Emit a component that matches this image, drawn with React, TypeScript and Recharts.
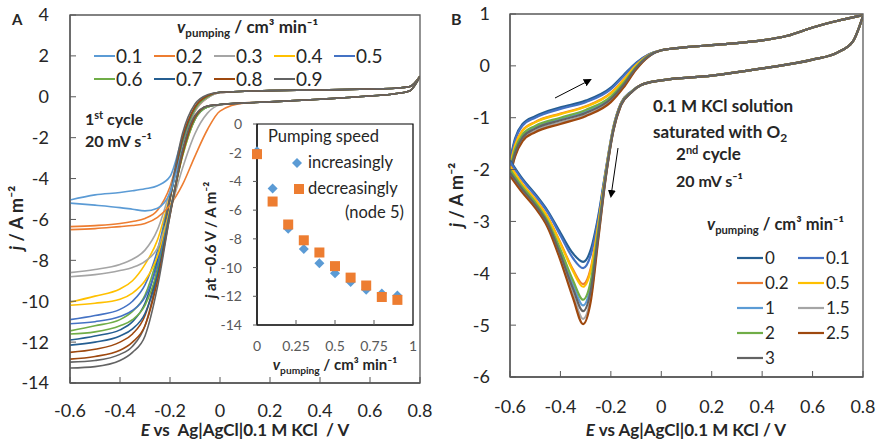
import React from 'react';
import { LineChart, Line, XAxis, YAxis, ReferenceArea, ScatterChart, Scatter } from 'recharts';

const FONT = 'Lato, "Open Sans", sans-serif';
const INK = '#262626';
const AXIS = '#595959';

// ---- Panel A: 1st cycle, j vs E for each pumping speed ----
const A_SPEEDS = ['0.1', '0.2', '0.3', '0.4', '0.5', '0.6', '0.7', '0.8', '0.9'];
const A_COLORS = ['#5B9BD5', '#ED7D31', '#A5A5A5', '#FFC000', '#4472C4', '#70AD47', '#255E91', '#9E480E', '#636363'];
const A_HEAD_E = [-0.6, -0.5, -0.4, -0.35, -0.3, -0.25, -0.2, -0.15, -0.1, -0.05, 0];
const A_TAIL_E = [0.1, 0.2, 0.4, 0.6, 0.7, 0.76, 0.8];
const A_UP_TAIL = [0.27, 0.3, 0.33, 0.38, 0.42, 0.5, 1.0];
const A_DOWN_TAIL = [-0.3, -0.25, -0.12, 0.04, 0.15, 0.3, 1.0];
// upper branch of each loop
const A_UP = [
  [-5.05, -4.8, -4.68, -4.6, -4.5, -4.35, -3.9, -2.0, -0.6, -0.05, 0.2],
  [-6.35, -6.3, -6.2, -6.1, -5.95, -5.55, -4.4, -2.2, -0.7, -0.05, 0.2],
  [-8.6, -8.45, -8.2, -7.95, -7.5, -6.5, -4.6, -2.3, -0.7, -0.05, 0.2],
  [-10.05, -9.75, -9.4, -9.0, -8.2, -7.0, -4.8, -2.2, -0.6, 0.0, 0.22],
  [-10.9, -10.7, -10.4, -10.0, -9.2, -7.5, -4.9, -2.2, -0.6, 0.0, 0.22],
  [-11.45, -11.2, -10.9, -10.5, -9.7, -7.8, -5.0, -2.2, -0.6, 0.0, 0.22],
  [-11.9, -11.7, -11.4, -11.0, -10.1, -8.0, -5.0, -2.1, -0.5, 0.05, 0.22],
  [-12.5, -12.35, -12.0, -11.6, -10.7, -8.4, -5.0, -2.0, -0.5, 0.05, 0.22],
  [-12.98, -12.9, -12.6, -12.2, -11.2, -8.7, -4.9, -1.8, -0.35, 0.1, 0.22],
];
// lower branch of each loop
const A_DOWN = [
  [-5.2, -5.3, -5.42, -5.5, -5.58, -5.45, -4.7, -2.6, -1.0, -0.5, -0.38],
  [-6.5, -6.45, -6.35, -6.3, -6.2, -5.9, -5.3, -4.3, -2.9, -1.6, -0.7],
  [-8.8, -8.7, -8.5, -8.35, -8.05, -7.4, -5.6, -3.5, -1.8, -0.8, -0.4],
  [-10.2, -10.1, -9.9, -9.6, -9.0, -7.8, -5.5, -2.9, -1.1, -0.5, -0.38],
  [-11.1, -11.0, -10.75, -10.45, -9.8, -8.2, -5.6, -2.8, -1.1, -0.5, -0.38],
  [-11.6, -11.5, -11.2, -10.9, -10.2, -8.5, -5.7, -2.9, -1.1, -0.5, -0.38],
  [-12.15, -12.0, -11.7, -11.35, -10.6, -8.7, -5.7, -2.8, -1.0, -0.45, -0.38],
  [-12.83, -12.7, -12.4, -12.0, -11.2, -9.0, -5.8, -2.8, -1.0, -0.45, -0.38],
  [-13.27, -13.2, -12.9, -12.5, -11.7, -9.3, -5.8, -2.6, -0.9, -0.45, -0.38],
];

// ---- Inset: j at -0.6 V vs pumping speed ----
const INSET_SPEED = [0, 0.1, 0.2, 0.3, 0.4, 0.5, 0.6, 0.7, 0.8, 0.9];
const INSET_INC = [-1.9, -4.5, -7.3, -8.7, -9.7, -10.4, -11.0, -11.55, -11.8, -11.95];
const INSET_DEC = [-2.1, -5.4, -7.0, -8.1, -8.95, -9.9, -10.7, -11.25, -12.05, -12.25];

// ---- Panel B: 2nd cycle in O2-saturated KCl ----
const B_SPEEDS = ['0', '0.1', '0.2', '0.5', '1', '1.5', '2', '2.5', '3'];
const B_COLORS = ['#255E91', '#4472C4', '#ED7D31', '#FFC000', '#5B9BD5', '#A5A5A5', '#70AD47', '#9E480E', '#636363'];
const B_LOW_E = [-0.6, -0.55, -0.5, -0.45, -0.4, -0.35, -0.31, -0.28, -0.25, -0.22, -0.19, -0.16, -0.12];
const B_LOW_TAIL_E = [-0.08, 0, 0.2, 0.4, 0.6, 0.7, 0.76, 0.8];
const B_LOW_TAIL = [-0.37, -0.28, -0.19, -0.05, 0.12, 0.26, 0.47, 0.96];
const B_LOW = [
  [-1.82, -2.18, -2.47, -2.8, -3.22, -3.62, -3.78, -3.55, -2.9, -2.0, -1.18, -0.72, -0.5],
  [-1.85, -2.21, -2.5, -2.83, -3.27, -3.71, -3.9, -3.65, -2.95, -2.02, -1.19, -0.72, -0.5],
  [-1.93, -2.28, -2.57, -2.92, -3.41, -3.93, -4.21, -3.91, -3.06, -2.05, -1.21, -0.73, -0.51],
  [-1.94, -2.29, -2.58, -2.93, -3.43, -3.96, -4.26, -3.95, -3.08, -2.06, -1.21, -0.74, -0.51],
  [-2.03, -2.37, -2.66, -3.02, -3.59, -4.22, -4.62, -4.25, -3.22, -2.11, -1.23, -0.75, -0.51],
  [-2.1, -2.43, -2.72, -3.09, -3.71, -4.41, -4.88, -4.47, -3.31, -2.14, -1.24, -0.76, -0.52],
  [-2.0, -2.34, -2.63, -3.0, -3.54, -4.14, -4.51, -4.16, -3.17, -2.09, -1.22, -0.74, -0.51],
  [-2.12, -2.45, -2.74, -3.12, -3.75, -4.48, -4.98, -4.55, -3.35, -2.15, -1.25, -0.76, -0.52],
  [-2.06, -2.39, -2.68, -3.05, -3.64, -4.3, -4.73, -4.34, -3.26, -2.12, -1.24, -0.75, -0.52],
];
const B_UP_E = [-0.6, -0.58, -0.55, -0.5, -0.4, -0.3, -0.2, -0.15, -0.1, -0.05];
const B_UP_TAIL_E = [0, 0.1, 0.2, 0.3, 0.4, 0.5, 0.6, 0.7, 0.8];
const B_UP_TAIL = [0.3, 0.36, 0.4, 0.44, 0.49, 0.58, 0.74, 0.87, 0.98];
const B_UP = [
  [-1.82, -1.4, -1.12, -0.97, -0.8, -0.67, -0.42, -0.18, 0.06, 0.22],
  [-1.85, -1.44, -1.15, -1.0, -0.83, -0.7, -0.45, -0.2, 0.05, 0.22],
  [-1.93, -1.53, -1.24, -1.08, -0.92, -0.78, -0.52, -0.27, 0.01, 0.21],
  [-1.94, -1.54, -1.25, -1.09, -0.93, -0.79, -0.53, -0.28, 0.01, 0.2],
  [-2.03, -1.65, -1.35, -1.19, -1.02, -0.88, -0.62, -0.35, -0.03, 0.19],
  [-2.1, -1.72, -1.42, -1.25, -1.09, -0.95, -0.68, -0.4, -0.06, 0.18],
  [-2.0, -1.61, -1.32, -1.16, -1.0, -0.85, -0.59, -0.33, -0.02, 0.2],
  [-2.12, -1.75, -1.45, -1.28, -1.12, -0.97, -0.7, -0.42, -0.07, 0.18],
  [-2.06, -1.68, -1.38, -1.21, -1.05, -0.91, -0.64, -0.37, -0.04, 0.19],
];

const A_X_TICKS = [-0.6, -0.4, -0.2, 0, 0.2, 0.4, 0.6, 0.8];
const A_Y_TICKS = [-14, -12, -10, -8, -6, -4, -2, 0, 2, 4];
const B_Y_TICKS = [-6, -5, -4, -3, -2, -1, 0, 1];
const INSET_X_TICKS = [0, 0.25, 0.5, 0.75, 1];
const INSET_Y_TICKS = [-14, -12, -10, -8, -6, -4, -2, 0];

function branch(e1: number[], j1: number[], e2: number[], j2: number[]) {
  return [...e1.map((E, i) => ({ E, j: j1[i] })), ...e2.map((E, i) => ({ E, j: j2[i] }))];
}

const tickStyle = { fontFamily: FONT, fontSize: 18, fill: INK };

const Diamond = (p: any) => (
  <polygon points={`${p.cx},${p.cy - 5} ${p.cx + 5},${p.cy} ${p.cx},${p.cy + 5} ${p.cx - 5},${p.cy}`} fill="#5B9BD5" />
);
const Square = (p: any) => <rect x={p.cx - 5} y={p.cy - 5} width={10} height={10} fill="#ED7D31" />;

function PumpLabel({ x, y, size, anchor }: { x: number; y: number; size: number; anchor?: string }) {
  return (
    <text x={x} y={y} fontFamily={FONT} fontSize={size} fontWeight={700} fill={INK} textAnchor={anchor}>
      <tspan fontStyle="italic">v</tspan>
      <tspan fontSize={size * 0.68} dy={4}>pumping</tspan>
      <tspan dy={-4}> / cm³ min⁻¹</tspan>
    </text>
  );
}

export default function App() {
  return (
    <div style={{ position: 'fixed', left: 0, top: 0, width: 877, height: 439, background: '#fff' }}>
      <div style={{ position: 'absolute', left: 0, top: 0 }}>
        <LineChart width={440} height={439} margin={{ top: 15, right: 20, bottom: 26, left: 10 }}>
          <XAxis dataKey="E" type="number" domain={[-0.6, 0.8]} ticks={A_X_TICKS} interval={0}
            allowDataOverflow height={30} tickSize={-6} tickMargin={27} tick={tickStyle}
            axisLine={{ stroke: AXIS, strokeWidth: 1.3 }} tickLine={{ stroke: AXIS }} />
          <YAxis type="number" domain={[-14, 4]} ticks={A_Y_TICKS} interval={0} allowDataOverflow
            width={60} tickSize={-6} tickMargin={27} tick={tickStyle}
            axisLine={{ stroke: AXIS, strokeWidth: 1.3 }} tickLine={{ stroke: AXIS }} />
          <ReferenceArea x1={-0.6} x2={0.8} y1={-14} y2={4} fill="none" stroke={AXIS} strokeWidth={1.3} />
          {A_SPEEDS.map((s, i) => (
            <Line key={'au' + s} data={branch(A_HEAD_E, A_UP[i], A_TAIL_E, A_UP_TAIL)} dataKey="j"
              type="monotone" dot={false} stroke={A_COLORS[i]} strokeWidth={1.6} isAnimationActive={false} />
          ))}
          {A_SPEEDS.map((s, i) => (
            <Line key={'ad' + s} data={branch(A_HEAD_E, A_DOWN[i], A_TAIL_E, A_DOWN_TAIL)} dataKey="j"
              type="monotone" dot={false} stroke={A_COLORS[i]} strokeWidth={1.6} isAnimationActive={false} />
          ))}
        </LineChart>
      </div>

      <div style={{ position: 'absolute', left: 200, top: 110 }}>
        <ScatterChart width={225} height={270} margin={{ top: 14, right: 12, bottom: 25, left: 10 }}>
          <XAxis dataKey="x" type="number" domain={[0, 1]} ticks={INSET_X_TICKS} interval={0} height={30}
            tickSize={-5} tickMargin={21} tick={{ fontFamily: FONT, fontSize: 14, fill: AXIS }}
            axisLine={{ stroke: '#000' }} tickLine={{ stroke: AXIS }} />
          <YAxis dataKey="y" type="number" domain={[-14, 0]} ticks={INSET_Y_TICKS} interval={0} width={47}
            tickSize={4} tickMargin={11} tick={{ fontFamily: FONT, fontSize: 14, fill: AXIS }}
            axisLine={{ stroke: '#000' }} tickLine={{ stroke: AXIS }} />
          <ReferenceArea x1={0} x2={1} y1={-14} y2={0} fill="none" stroke="#000" strokeWidth={1.2} />
          <Scatter data={INSET_SPEED.map((x, i) => ({ x, y: INSET_INC[i] }))} shape={Diamond} isAnimationActive={false} />
          <Scatter data={INSET_SPEED.map((x, i) => ({ x, y: INSET_DEC[i] }))} shape={Square} isAnimationActive={false} />
        </ScatterChart>
      </div>

      <div style={{ position: 'absolute', left: 440, top: 0 }}>
        <LineChart width={437} height={439} margin={{ top: 14, right: 14, bottom: 32, left: 10 }}>
          <XAxis dataKey="E" type="number" domain={[-0.6, 0.8]} ticks={A_X_TICKS} interval={0}
            allowDataOverflow height={30} tickSize={-6} tickMargin={29} tick={tickStyle}
            axisLine={{ stroke: AXIS, strokeWidth: 1.3 }} tickLine={{ stroke: AXIS }} />
          <YAxis type="number" domain={[-6, 1]} ticks={B_Y_TICKS} interval={0} allowDataOverflow
            width={60} tickSize={-6} tickMargin={26} tick={tickStyle}
            axisLine={{ stroke: AXIS, strokeWidth: 1.3 }} tickLine={{ stroke: AXIS }} />
          <ReferenceArea x1={-0.6} x2={0.8} y1={-6} y2={1} fill="none" stroke={AXIS} strokeWidth={1.3} />
          {B_SPEEDS.map((s, i) => (
            <Line key={'bu' + s} data={branch(B_UP_E, B_UP[i], B_UP_TAIL_E, B_UP_TAIL)} dataKey="j"
              type="monotone" dot={false} stroke={B_COLORS[i]} strokeWidth={2.2} isAnimationActive={false} />
          ))}
          {B_SPEEDS.map((s, i) => (
            <Line key={'bl' + s} data={branch(B_LOW_E, B_LOW[i], B_LOW_TAIL_E, B_LOW_TAIL)} dataKey="j"
              type="monotone" dot={false} stroke={B_COLORS[i]} strokeWidth={2.2} isAnimationActive={false} />
          ))}
        </LineChart>
      </div>

      <svg width={877} height={439} style={{ position: 'absolute', left: 0, top: 0, pointerEvents: 'none' }}>
        <defs>
          <marker id="arr" markerWidth="8" markerHeight="8" refX="6" refY="4" orient="auto" markerUnits="userSpaceOnUse">
            <path d="M0,0 L8,4 L0,8 z" fill="#000" />
          </marker>
        </defs>
        <g fontFamily={FONT} fill={INK} fontWeight={700}>
          <text x={12} y={25} fontSize={15}>A</text>
          <text x={451} y={25} fontSize={16}>B</text>

          {/* panel A legend */}
          <PumpLabel x={177} y={33} size={17} />
          {A_SPEEDS.map((s, i) => {
            const x = 94 + (i % 5) * 60;
            const y = i < 5 ? 56 : 79;
            return (
              <g key={'la' + s}>
                <line x1={x} x2={x + 21} y1={y} y2={y} stroke={A_COLORS[i]} strokeWidth={2} />
                <text x={x + 22} y={y + 7} fontSize={19} fontWeight={400}>{s}</text>
              </g>
            );
          })}
          <text x={85} y={125} fontSize={16}>1<tspan fontSize={11} dy={-6}>st</tspan><tspan dy={6}> cycle</tspan></text>
          <text x={85} y={147} fontSize={16}>20 mV s⁻¹</text>

          {/* axis titles A */}
          <text x={245} y={436} fontSize={17} textAnchor="middle" style={{ whiteSpace: 'pre' }}>
            <tspan fontStyle="italic">E</tspan> vs  Ag|AgCl|0.1 M KCl  / V
          </text>
          <text transform="translate(23,218) rotate(-90)" fontSize={18} textAnchor="middle">
            <tspan fontStyle="italic">j</tspan> / A m⁻²
          </text>

          {/* inset texts */}
          <text x={268} y={142} fontSize={16.5} fontWeight={400}>Pumping speed</text>
          <polygon points="297,158 302,163 297,168 292,163" fill="#5B9BD5" />
          <text x={308} y={168} fontSize={16.5} fontWeight={400}>increasingly</text>
          <rect x={294} y={184} width={10} height={10} fill="#ED7D31" />
          <text x={308} y={194} fontSize={16.5} fontWeight={400}>decreasingly</text>
          <text x={404} y={218} fontSize={16.5} fontWeight={400} textAnchor="end">(node 5)</text>
          <PumpLabel x={335} y={370} size={15} anchor="middle" />
          <text transform="translate(216,240) rotate(-90)" fontSize={15} textAnchor="middle">
            <tspan fontStyle="italic">j</tspan> at −0.6 V / A m⁻²
          </text>

          {/* panel B texts */}
          <text x={653} y={112} fontSize={17}>0.1 M KCl solution</text>
          <text x={653} y={138} fontSize={17}>saturated with O<tspan fontSize={12} dy={4}>2</tspan></text>
          <text x={676} y={160} fontSize={17}>2<tspan fontSize={11} dy={-6}>nd</tspan><tspan dy={6}> cycle</tspan></text>
          <text x={676} y={187} fontSize={16}>20 mV s⁻¹</text>
          <line x1={555} y1={98} x2={590} y2={80} stroke="#000" strokeWidth={1} markerEnd="url(#arr)" />
          <line x1={618} y1={148} x2={611} y2={196} stroke="#000" strokeWidth={1} markerEnd="url(#arr)" />

          <PumpLabel x={707} y={230} size={16.5} />
          {B_SPEEDS.map((s, i) => {
            const x = i % 2 === 0 ? 737 : 798;
            const y = 258 + Math.floor(i / 2) * 25;
            return (
              <g key={'lb' + s}>
                <line x1={x} x2={x + 26} y1={y} y2={y} stroke={B_COLORS[i]} strokeWidth={2.2} />
                <text x={x + 28} y={y + 6} fontSize={17} fontWeight={400}>{s}</text>
              </g>
            );
          })}

          <text x={686} y={436} fontSize={17} textAnchor="middle">
            <tspan fontStyle="italic">E</tspan> vs Ag|AgCl|0.1 M KCl / V
          </text>
          <text transform="translate(463,195) rotate(-90)" fontSize={18} textAnchor="middle">
            <tspan fontStyle="italic">j</tspan> / A m⁻²
          </text>
        </g>
      </svg>
    </div>
  );
}
